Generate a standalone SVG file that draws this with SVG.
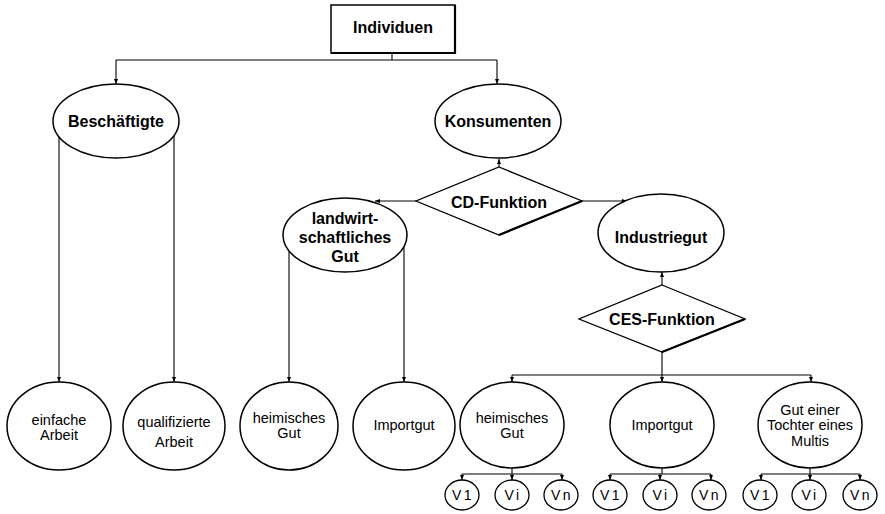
<svg xmlns="http://www.w3.org/2000/svg" width="885" height="514" viewBox="0 0 885 514">
<defs>
<marker id="ah" viewBox="0 0 10 10" refX="10" refY="5" markerWidth="5" markerHeight="5" orient="auto" markerUnits="userSpaceOnUse">
<path d="M0,1 L10,5 L0,9 Z" fill="#000"/>
</marker>
<style>
.sh{fill:#fff;stroke:#000;stroke-width:1.5}
.sm{fill:#fff;stroke:#000;stroke-width:1.3}
.ln{fill:none;stroke:#000;stroke-width:1.1}
.ar{fill:none;stroke:#000;stroke-width:1.1;marker-end:url(#ah)}
.sd{fill:none;stroke:#000;stroke-width:2.2}
.b{font-family:"Liberation Sans",Arial,sans-serif;font-weight:bold;font-size:16px;text-anchor:middle;fill:#000}
.n{font-family:"Liberation Sans",Arial,sans-serif;font-size:14.5px;text-anchor:middle;fill:#000}
.v{font-family:"Liberation Sans",Arial,sans-serif;font-size:14px;text-anchor:middle;fill:#000;letter-spacing:2.5px}
</style>
</defs>
<rect width="885" height="514" fill="#fff"/>
<g id="connectors">
<path class="ln" d="M392,53 V60 M116,60 H497"/>
<path class="ar" d="M116,60 V84"/>
<path class="ar" d="M497,60 V84"/>
<path class="ar" d="M59,137 V382"/>
<path class="ar" d="M174,136 V382"/>
<path class="ar" d="M499,167 V159"/>
<path class="ar" d="M416,201 H375"/>
<path class="ar" d="M582,201 H627"/>
<path class="ar" d="M289,251 V382"/>
<path class="ar" d="M404,246 V382"/>
<path class="ar" d="M662,285 V272"/>
<path class="ln" d="M662,352 V375 M512,375 H811"/>
<path class="ar" d="M512,375 V382"/>
<path class="ar" d="M662,375 V382"/>
<path class="ar" d="M811,375 V382"/>
<path class="ln" d="M512,467 V474 M462,474 H562 M662,467 V474 M610,474 H711 M810,467 V474 M761,474 H860"/>
<path class="ar" d="M462,474 V480"/>
<path class="ar" d="M512,474 V480"/>
<path class="ar" d="M562,474 V480"/>
<path class="ar" d="M610,474 V480"/>
<path class="ar" d="M660,474 V480"/>
<path class="ar" d="M711,474 V480"/>
<path class="ar" d="M761,474 V480"/>
<path class="ar" d="M810,474 V480"/>
<path class="ar" d="M860,474 V480"/>
</g>
<g id="individuen">
<rect class="sh" x="331" y="5" width="124" height="48"/>
<path class="sd" d="M331,53 H455 V5"/>
<text class="b" x="393" y="33">Individuen</text>
</g>
<g id="beschaeftigte">
<ellipse class="sh" cx="116" cy="121" rx="63" ry="37"/>
<text class="b" x="116" y="127">Beschäftigte</text>
</g>
<g id="konsumenten">
<ellipse class="sh" cx="498" cy="121" rx="63" ry="37"/>
<text class="b" x="498" y="127">Konsumenten</text>
</g>
<g id="cd-funktion">
<polygon class="sm" points="499,167 582,201 499,235 416,201"/>
<path class="sd" d="M499,235 L582,201"/>
<text class="b" x="499" y="208">CD-Funktion</text>
</g>
<g id="landwirtschaftliches-gut">
<ellipse class="sh" cx="345" cy="235" rx="62" ry="37"/>
<text class="b" x="345" y="224">landwirt-</text>
<text class="b" x="345" y="243">schaftliches</text>
<text class="b" x="345" y="262">Gut</text>
</g>
<g id="industriegut">
<ellipse class="sh" cx="661" cy="233" rx="63" ry="39"/>
<text class="b" x="661" y="243">Industriegut</text>
</g>
<g id="ces-funktion">
<polygon class="sm" points="662,285 745,319 662,352 579,319"/>
<path class="sd" d="M662,352 L745,319"/>
<text class="b" x="662" y="325">CES-Funktion</text>
</g>
<g id="einfache-arbeit">
<ellipse class="sh" cx="59" cy="426" rx="52" ry="44"/>
<text class="n" x="59" y="425">einfache</text>
<text class="n" x="59" y="440">Arbeit</text>
</g>
<g id="qualifizierte-arbeit">
<ellipse class="sh" cx="174" cy="426" rx="51" ry="44"/>
<text class="n" x="174" y="427">qualifizierte</text>
<text class="n" x="174" y="447">Arbeit</text>
</g>
<g id="heimisches-gut-l">
<ellipse class="sh" cx="289" cy="426" rx="49" ry="44"/>
<text class="n" x="289" y="423">heimisches</text>
<text class="n" x="289" y="438">Gut</text>
</g>
<g id="importgut-l">
<ellipse class="sh" cx="404" cy="426" rx="51" ry="44"/>
<text class="n" x="404" y="430">Importgut</text>
</g>
<g id="heimisches-gut-r">
<ellipse class="sh" cx="512" cy="425" rx="52" ry="43"/>
<text class="n" x="512" y="423">heimisches</text>
<text class="n" x="512" y="438">Gut</text>
</g>
<g id="importgut-r">
<ellipse class="sh" cx="662" cy="425" rx="52" ry="43"/>
<text class="n" x="662" y="430">Importgut</text>
</g>
<g id="gut-tochter">
<ellipse class="sh" cx="810" cy="425" rx="52" ry="43"/>
<text class="n" x="810" y="415">Gut einer</text>
<text class="n" x="810" y="430">Tochter eines</text>
<text class="n" x="810" y="446">Multis</text>
</g>
<g id="v1-a"><ellipse class="sm" cx="462" cy="495" rx="17" ry="15"/><text class="v" x="463" y="500">V1</text></g>
<g id="vi-a"><ellipse class="sm" cx="512" cy="495" rx="17" ry="15"/><text class="v" x="513" y="500">Vi</text></g>
<g id="vn-a"><ellipse class="sm" cx="561" cy="495" rx="17" ry="15"/><text class="v" x="562" y="500">Vn</text></g>
<g id="v1-b"><ellipse class="sm" cx="610" cy="495" rx="17" ry="15"/><text class="v" x="611" y="500">V1</text></g>
<g id="vi-b"><ellipse class="sm" cx="660" cy="495" rx="17" ry="15"/><text class="v" x="661" y="500">Vi</text></g>
<g id="vn-b"><ellipse class="sm" cx="709" cy="495" rx="17" ry="15"/><text class="v" x="710" y="500">Vn</text></g>
<g id="v1-c"><ellipse class="sm" cx="760" cy="495" rx="17" ry="15"/><text class="v" x="761" y="500">V1</text></g>
<g id="vi-c"><ellipse class="sm" cx="809" cy="495" rx="17" ry="15"/><text class="v" x="810" y="500">Vi</text></g>
<g id="vn-c"><ellipse class="sm" cx="860" cy="495" rx="17" ry="15"/><text class="v" x="861" y="500">Vn</text></g>
</svg>
